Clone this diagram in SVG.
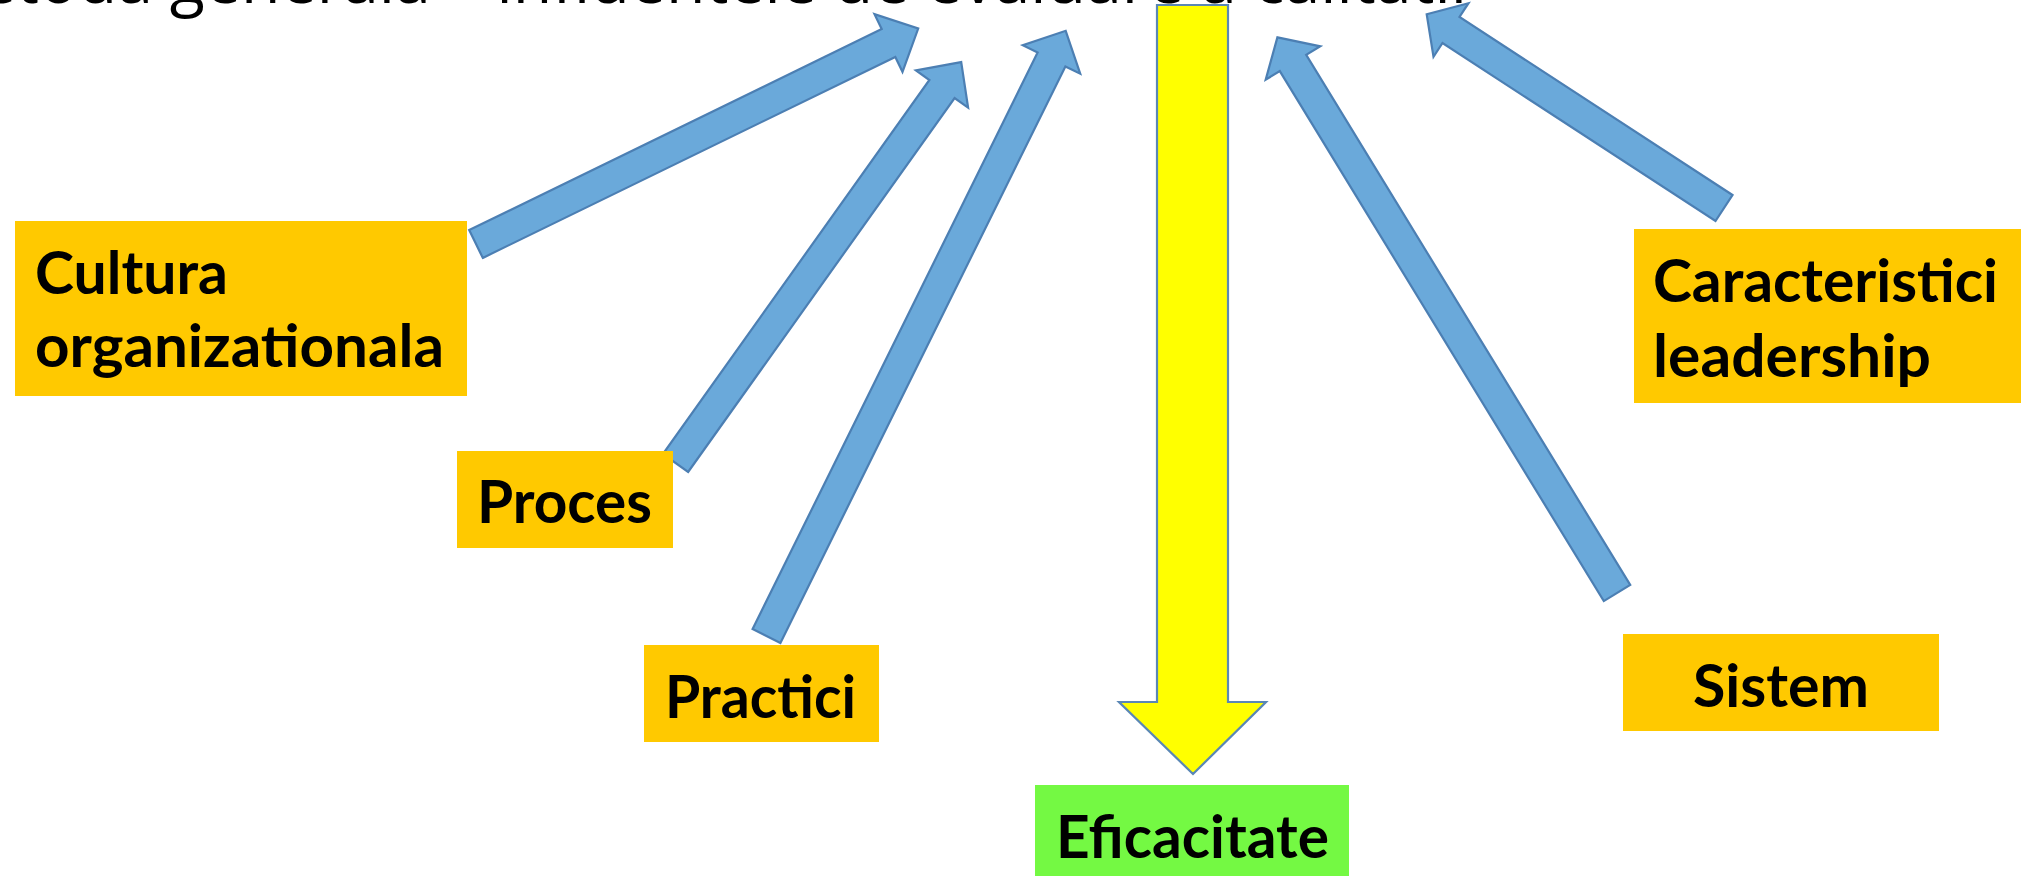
<svg xmlns="http://www.w3.org/2000/svg" width="2021" height="876" viewBox="0 0 2021 876">
<style>
.bg{fill:#ffffff}
.box{fill:#FFC900}
.green{fill:#74F943}
.lbl{font-family:Lato,"Open Sans","Liberation Sans",sans-serif;font-weight:bold;font-size:59px;fill:#000}
.title{font-family:"Open Sans","Liberation Sans",sans-serif;font-size:66px;fill:#000}
.arr{fill:#6AA9DA;stroke:#4C7FB3;stroke-width:2.2;stroke-linejoin:miter}
.yarr{fill:#FFFF00;stroke:#5A87B5;stroke-width:2.2}
</style>
<rect class="bg" x="0" y="0" width="2021" height="876"/>
<text class="title" x="-78" y="3" textLength="1545" lengthAdjust="spacingAndGlyphs">Metoda generala – influentele de evaluare a calitatii</text>

<g id="connectors">
<polygon id="a-cultura" class="arr" points="482.8,257.9 895.3,56.9 902.5,71.8 918.2,28.5 874.5,14.2 881.7,29.1 469.2,230.1"/>
<polygon id="a-proces" class="arr" points="688.1,472.0 954.6,98.0 968.1,107.6 961.2,62.1 915.9,70.4 929.4,80.0 662.9,454.0"/>
<polygon id="a-practici" class="arr" points="780.4,642.9 1065.4,66.4 1080.2,73.7 1065.7,30.8 1022.8,45.3 1037.6,52.6 752.6,629.1"/>
<polygon id="a-sistem" class="arr" points="1630.2,584.9 1306.2,54.9 1320.3,46.3 1277.4,37.4 1265.7,79.7 1279.8,71.1 1603.8,601.1"/>
<polygon id="a-leadership" class="arr" points="1732.5,195.0 1459.5,17.0 1468.5,3.2 1426.7,14.2 1433.5,56.8 1442.5,43.0 1715.5,221.0"/>
<polygon id="a-eficacitate" class="yarr" points="1157,5 1228,5 1228,702 1266,702 1193,774 1119,702 1157,702"/>
</g>

<g id="cultura">
<rect class="box" x="15" y="221" width="452" height="175"/>
<text class="lbl" x="35" y="294" textLength="193" lengthAdjust="spacingAndGlyphs">Cultura</text>
<text class="lbl" x="35" y="367" textLength="409" lengthAdjust="spacingAndGlyphs">organizationala</text>
</g>

<g id="proces">
<rect class="box" x="457" y="451" width="216" height="97"/>
<text class="lbl" x="477" y="523" textLength="175" lengthAdjust="spacingAndGlyphs">Proces</text>
</g>

<g id="practici">
<rect class="box" x="644" y="645" width="235" height="97"/>
<text class="lbl" x="665" y="718" textLength="191" lengthAdjust="spacingAndGlyphs">Practici</text>
</g>

<g id="leadership">
<rect class="box" x="1634" y="229" width="387" height="174"/>
<text class="lbl" x="1653" y="302" textLength="345" lengthAdjust="spacingAndGlyphs">Caracteristici</text>
<text class="lbl" x="1653" y="377" textLength="278" lengthAdjust="spacingAndGlyphs">leadership</text>
</g>

<g id="sistem">
<rect class="box" x="1623" y="634" width="316" height="97"/>
<text class="lbl" x="1693" y="707" textLength="176" lengthAdjust="spacingAndGlyphs">Sistem</text>
</g>

<g id="eficacitate">
<rect class="green" x="1035" y="785" width="314" height="91"/>
<text class="lbl" x="1056" y="858" textLength="273" lengthAdjust="spacingAndGlyphs">Eficacitate</text>
</g>
</svg>
